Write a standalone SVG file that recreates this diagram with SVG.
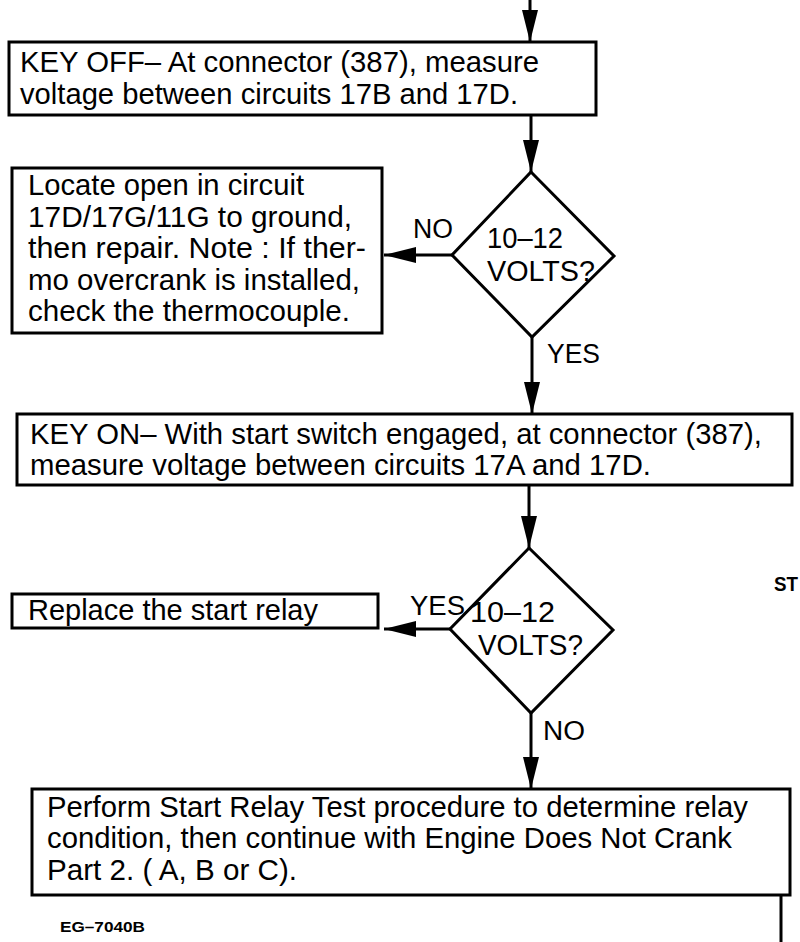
<svg xmlns="http://www.w3.org/2000/svg" width="800" height="942" viewBox="0 0 800 942">
<style>
.box{fill:#fff;stroke:#000;stroke-width:3}
.dia{fill:#fff;stroke:#000;stroke-width:3}
.t{font-family:"Liberation Sans",Arial,sans-serif;font-size:29px;fill:#000}
.lbl{font-family:"Liberation Sans",Arial,sans-serif;font-size:27px;fill:#000}
.ln{stroke:#000;stroke-width:3;fill:none}
.ah{fill:#000}
</style>
<defs>
<marker id="arr" viewBox="0 0 32 16" refX="32" refY="8" markerWidth="32" markerHeight="16" markerUnits="userSpaceOnUse" orient="auto">
<path d="M0,0 L32,8 L0,16 Z" class="ah"/>
</marker>
</defs>
<rect width="800" height="942" fill="#fff"/>
<g id="connectors">
<line class="ln" x1="530" y1="0" x2="530" y2="42" marker-end="url(#arr)"/>
<line class="ln" x1="531" y1="115" x2="531" y2="172" marker-end="url(#arr)"/>
<line class="ln" x1="452" y1="255" x2="384" y2="255" marker-end="url(#arr)"/>
<line class="ln" x1="532" y1="337" x2="532" y2="414" marker-end="url(#arr)"/>
<line class="ln" x1="529" y1="485" x2="529" y2="548" marker-end="url(#arr)"/>
<line class="ln" x1="450" y1="629" x2="384" y2="629" marker-end="url(#arr)"/>
<line class="ln" x1="531" y1="713" x2="531" y2="789" marker-end="url(#arr)"/>
<line class="ln" x1="781" y1="895" x2="781" y2="942"/>
<text class="lbl" x="413" y="238" textLength="40" lengthAdjust="spacingAndGlyphs">NO</text>
<text class="lbl" x="547" y="363" textLength="53" lengthAdjust="spacingAndGlyphs">YES</text>
<text class="lbl" x="410" y="615" textLength="55" lengthAdjust="spacingAndGlyphs">YES</text>
<text class="lbl" x="543" y="740" textLength="42" lengthAdjust="spacingAndGlyphs">NO</text>
</g>
<g id="box1">
<rect class="box" x="9" y="42" width="587" height="73"/>
<text class="t" x="20" y="72" textLength="519" lengthAdjust="spacingAndGlyphs">KEY OFF– At connector (387), measure</text>
<text class="t" x="20" y="104" textLength="498" lengthAdjust="spacingAndGlyphs">voltage between circuits 17B and 17D.</text>
</g>
<g id="decision1">
<polygon class="dia" points="531,172 614,256 532,337 452,255"/>
<text class="t" x="487" y="248" textLength="76" lengthAdjust="spacingAndGlyphs">10–12</text>
<text class="t" x="487" y="281" textLength="108" lengthAdjust="spacingAndGlyphs">VOLTS?</text>
</g>
<g id="box2">
<rect class="box" x="12" y="168" width="370" height="165"/>
<text class="t" x="28" y="195" textLength="276" lengthAdjust="spacingAndGlyphs">Locate open in circuit</text>
<text class="t" x="28" y="227" textLength="324" lengthAdjust="spacingAndGlyphs">17D/17G/11G to ground,</text>
<text class="t" x="28" y="258" textLength="338" lengthAdjust="spacingAndGlyphs">then repair. Note : If ther-</text>
<text class="t" x="28" y="290" textLength="332" lengthAdjust="spacingAndGlyphs">mo overcrank is installed,</text>
<text class="t" x="28" y="321" textLength="322" lengthAdjust="spacingAndGlyphs">check the thermocouple.</text>
</g>
<g id="box3">
<rect class="box" x="17" y="414" width="775" height="71"/>
<text class="t" x="30" y="444" textLength="732" lengthAdjust="spacingAndGlyphs">KEY ON– With start switch engaged, at connector (387),</text>
<text class="t" x="30" y="475" textLength="621" lengthAdjust="spacingAndGlyphs">measure voltage between circuits 17A and 17D.</text>
</g>
<g id="decision2">
<polygon class="dia" points="529,548 613,630 531,713 450,629"/>
<text class="t" x="470" y="622" textLength="85" lengthAdjust="spacingAndGlyphs">10–12</text>
<text class="t" x="478" y="655" textLength="105" lengthAdjust="spacingAndGlyphs">VOLTS?</text>
</g>
<g id="box4">
<rect class="box" x="12" y="594" width="366" height="34"/>
<text class="t" x="28" y="620" textLength="290" lengthAdjust="spacingAndGlyphs">Replace the start relay</text>
</g>
<g id="box5">
<rect class="box" x="32" y="789" width="758" height="106"/>
<text class="t" x="47" y="817" textLength="701" lengthAdjust="spacingAndGlyphs">Perform Start Relay Test procedure to determine relay</text>
<text class="t" x="47" y="848" textLength="685" lengthAdjust="spacingAndGlyphs">condition, then continue with Engine Does Not Crank</text>
<text class="t" x="47" y="880" textLength="250" lengthAdjust="spacingAndGlyphs">Part 2. ( A, B or C).</text>
</g>
<text x="774" y="591" textLength="24" lengthAdjust="spacingAndGlyphs" style="font-family:'Liberation Sans',Arial,sans-serif;font-size:20px;font-weight:bold">ST</text>
<text x="60" y="932" textLength="85" lengthAdjust="spacingAndGlyphs" style="font-family:'Liberation Sans',Arial,sans-serif;font-size:14px;font-weight:bold">EG–7040B</text>
</svg>
